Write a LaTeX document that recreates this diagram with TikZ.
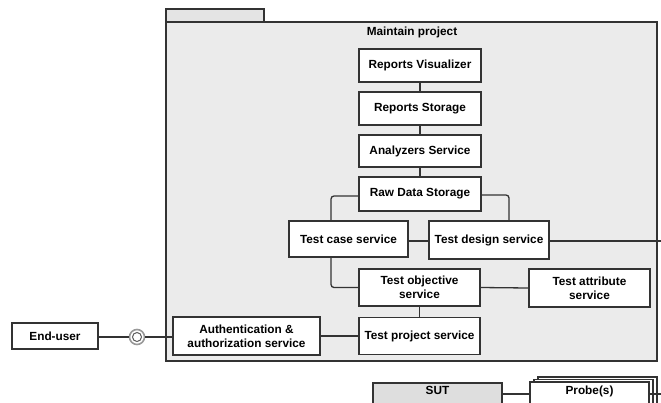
\documentclass[tikz,border=0pt]{standalone}
\usepackage{fontspec}
\setmainfont{Liberation Sans}
\usetikzlibrary{shadows}
\definecolor{pkggray}{HTML}{EBEBEB}
\definecolor{tabgray}{HTML}{E4E4E4}
\definecolor{sutgray}{HTML}{DEDEDE}
\definecolor{edge}{HTML}{333333}
\begin{document}
\begin{tikzpicture}[x=1pt,y=-1pt,
        comp/.style={rectangle, draw=edge, fill=white, line width=1.5pt, align=center, inner sep=2pt,
                font=\fontsize{11.8}{14}\selectfont\bfseries},
        conn/.style={draw=edge, line width=1.3pt},
        txt/.style={inner sep=0pt, font=\fontsize{11.8}{14}\selectfont\bfseries}]
                \useasboundingbox (0,0) rectangle (661,402);
                % package frame
                \draw[draw=edge, line width=1.4pt, fill=tabgray] (166,9) rectangle (264,22);
                \draw[draw=edge, line width=1.4pt, fill=pkggray] (166,22) rectangle (657,361);
                \node[txt] (title) at (412,32) {Maintain project};

                \node[comp, minimum width=122pt, minimum height=33pt] (RV) at (420,65.5) {Reports Visualizer};
                \node[comp, minimum width=122pt, minimum height=33pt] (RS) at (420,108.5) {Reports Storage};
                \node[comp, minimum width=122pt, minimum height=32pt] (AS) at (420,151) {Analyzers Service};
                \node[comp, minimum width=122pt, minimum height=34pt] (RD) at (420,194) {Raw Data Storage};
                \node[comp, minimum width=119pt, minimum height=36pt] (TC) at (348.5,239) {Test case service};
                \node[comp, minimum width=120pt, minimum height=38pt] (TD) at (489,240) {Test design service};
                \node[comp, minimum width=121pt, minimum height=37pt] (TO) at (419.5,287.5) {Test objective\\service};
                \node[comp, minimum width=121pt, minimum height=38pt] (TA) at (589.5,288) {Test attribute\\service};
                \node[comp, minimum width=121pt, minimum height=37pt] (TP) at (419.5,336) {Test project service};
                \node[comp, minimum width=147pt, minimum height=38pt] (AU) at (246.5,336) {Authentication \&\\authorization service};
                \node[comp, minimum width=86pt, minimum height=26pt] (EU) at (55,336) {End-user};

                % provided interface
                \node[circle, draw=gray!80, fill=white, line width=1.6pt, minimum size=15pt, inner sep=0pt] (IF) at (137,337) {};
                \node[circle, draw=edge!80, line width=1pt, minimum size=9pt, inner sep=0pt] (IFin) at (IF) {};

                % bottom row
                \node[comp, fill=sutgray, minimum width=129pt, minimum height=60pt, anchor=north] (SUT) at (437.5,382) {};
                \node[txt] (SUTlbl) at (437.5,390) {SUT};
                \node[comp, minimum width=119pt, minimum height=60pt, anchor=north,
                        double copy shadow={shadow xshift=4pt, shadow yshift=2.5pt, draw=edge, fill=white}] (PR) at (589.5,381) {};
                \node[txt] (PRlbl) at (589.5,391) {Probe(s)};
                \coordinate (outA) at (661,241);
                \coordinate (outB) at (661,394);

                \draw[conn] (RV) -- (RS);
                \draw[conn] (RS) -- (AS);
                \draw[conn] (AS) -- (RD);
                \draw[conn, rounded corners=3pt] ([yshift=-2pt]RD.west) -| ([xshift=-17.5pt]TC.north);
                \draw[conn, rounded corners=3pt] ([yshift=-1pt]RD.east) -| ([xshift=20pt]TD.north);
                \draw[conn] ([yshift=-2pt]TC.east) -- ([yshift=-2pt]TC.east -| TD.west);
                \draw[conn] ([yshift=-1pt]TD.east) -- (outA);
                \draw[conn, rounded corners=3pt] ([xshift=-17.5pt]TC.south) |- (TO.west);
                \draw[conn] (TO.east) -- (TA.west);
                \draw[conn] (TO) -- (TP);
                \draw[conn] (AU.east) -- (TP.west);
                \draw[conn] (EU.east |- IF) -- (IF);
                \draw[conn] (IF) -- (AU.west |- IF);
                \draw[conn] (SUT.east |- outB) -- (PR.west |- outB);
                \draw[conn] (PR.east |- outB) -- (outB);
            \end{tikzpicture}
\end{document}
